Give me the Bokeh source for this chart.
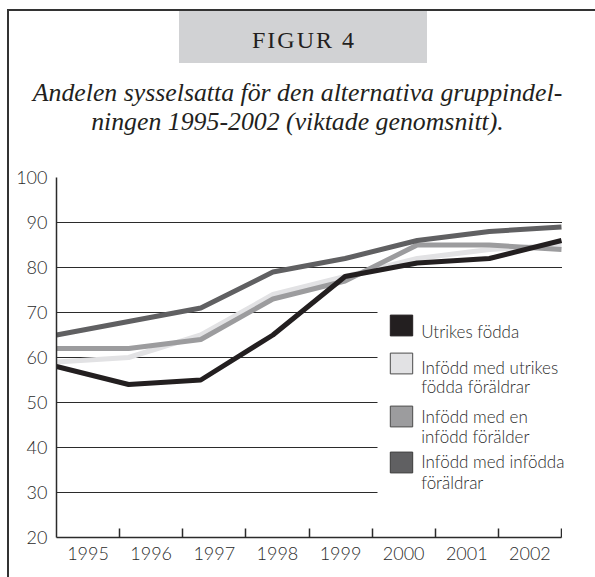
from bokeh.plotting import figure
from bokeh.layouts import column
from bokeh.models import Range1d, FixedTicker, Legend, LegendItem, BoxAnnotation, Div
from bokeh.embed import file_html
from bokeh.resources import INLINE

# ---- data ----
years = [1995, 1996, 1997, 1998, 1999, 2000, 2001, 2002]
utrikes_fodda = [58, 54, 55, 65, 78, 81, 82, 86]
infodd_utrikes_foraldrar = [59, 60, 65, 74, 78, 82, 84, 85]
infodd_en_infodd = [62, 62, 64, 73, 77, 85, 85, 84]
infodd_infodda = [65, 68, 71, 79, 82, 86, 88, 89]
series_labels = [
    ["Utrikes födda"],
    ["Infödd med utrikes", "födda föräldrar"],
    ["Infödd med en", "infödd förälder"],
    ["Infödd med infödda", "föräldrar"],
]
y_ticks = [20, 30, 40, 50, 60, 70, 80, 90, 100]
header = "FIGUR 4"
title_lines = ["Andelen sysselsatta för den alternativa gruppindel-",
               "ningen 1995-2002 (viktade genomsnitt)."]

# ---- styles / layout ----
line_colors = ["#231f20", "#e2e2e4", "#9c9c9e", "#606062"]
swatch_borders = ["#231f20", "#4a4a4a", "#4a4a4a", "#3a3a3a"]
ink = "#2b2b2b"
sans = "Lato Light, Lato"
W = 586
left_px = 47       # room for the value labels
plot_px = 505      # width of the year axis in px
extra_px = W - left_px - plot_px   # frame room right of the axis (legend text)

# ---- header ----
head_html = f"""
<div style="position:relative;width:{W}px;height:150px;">
  <div style="position:absolute;left:170px;top:0px;width:248px;height:52px;background:#d1d2d4;"></div>
  <div style="position:absolute;left:171px;top:3px;width:248px;height:52px;line-height:52px;
              text-align:center;font-family:'Liberation Serif';font-size:24px;letter-spacing:2px;
              color:#231f20;white-space:nowrap;">{header}</div>
  <div style="position:absolute;left:0px;top:67px;width:577px;line-height:29px;text-align:center;
              font-family:'Liberation Serif';font-style:italic;font-size:25.8px;color:#231f20;
              white-space:nowrap;">{title_lines[0]}<br>{title_lines[1]}</div>
</div>
"""
head = Div(text=head_html, width=W, height=150, margin=0)

# ---- chart ----
H = 416
x_end = years[-1] + (years[-1] - years[0]) * extra_px / plot_px
p = figure(width=W, height=H, output_backend="svg", toolbar_location=None,
           x_range=Range1d(years[0], x_end), y_range=Range1d(y_ticks[0], y_ticks[-1]),
           min_border_left=left_px, min_border_right=0,
           min_border_top=16, min_border_bottom=40)
p.outline_line_color = None

n = len(years)
slot = (years[-1] - years[0]) / n
centers = [years[0] + (k + 0.5) * slot for k in range(n)]
bounds = [years[0] + (k + 1) * slot for k in range(n)]

xa = p.xaxis[0]
xa.bounds = (years[0], years[-1])
xa.ticker = FixedTicker(ticks=centers, minor_ticks=bounds)
xa.major_label_overrides = {c: str(y) for c, y in zip(centers, years)}
xa.major_tick_in = 0
xa.major_tick_out = 0
xa.minor_tick_in = 9
xa.minor_tick_out = 0
xa.minor_tick_line_color = ink
xa.minor_tick_line_width = 1.5
xa.axis_line_color = ink
xa.axis_line_width = 1.5
xa.major_label_text_font = sans
xa.major_label_text_font_size = "18px"
xa.major_label_text_color = ink
xa.major_label_standoff = 9

ya = p.yaxis[0]
ya.ticker = FixedTicker(ticks=y_ticks, minor_ticks=[])
ya.major_tick_in = 0
ya.major_tick_out = 0
ya.minor_tick_in = 0
ya.minor_tick_out = 0
ya.axis_line_color = ink
ya.axis_line_width = 1.5
ya.major_label_text_font = sans
ya.major_label_text_font_size = "18px"
ya.major_label_text_color = ink
ya.major_label_standoff = 9

p.xgrid.grid_line_color = None
p.ygrid.ticker = FixedTicker(ticks=y_ticks)
p.ygrid.grid_line_color = ink
p.ygrid.grid_line_width = 1

series = [utrikes_fodda, infodd_utrikes_foraldrar, infodd_en_infodd, infodd_infodda]

# zero-area quads on the data (invisible), used only as legend swatch glyphs
swatch_renderers = []
for i in range(4):
    r = p.quad(left=years, right=years, top=series[i], bottom=series[i],
               fill_color=line_colors[i], line_color=swatch_borders[i], line_width=1)
    swatch_renderers.append(r)

for i in [1, 2, 3, 0]:
    p.line(years, series[i], line_width=5, line_color=line_colors[i])

def screen_box(left, right, bottom, top):
    return BoxAnnotation(left=left, right=right, bottom=bottom, top=top,
                         left_units="screen", right_units="screen",
                         top_units="screen", bottom_units="screen",
                         fill_color="white", fill_alpha=1, line_color=None)

# white area right of the year axis, and white panel behind the legend
p.add_layout(screen_box(plot_px + 0.5, 700, -10, 400))
p.add_layout(screen_box(321, 700, 32, 242))

common = dict(orientation="vertical", glyph_width=28, label_standoff=6,
              spacing=0, padding=0, margin=0,
              background_fill_alpha=0, border_line_color=None,
              label_text_font=sans, label_text_font_size="17px",
              label_text_color=ink)

# swatches (bottom edge of each swatch legend, frame-relative px)
swatch_y = [198.6, 160.6, 107.6, 61.6]
for i, y in enumerate(swatch_y):
    p.add_layout(Legend(items=[LegendItem(label="", renderers=[swatch_renderers[i]])],
                        location=(331.2, y), glyph_height=26, label_height=20, **common),
                 "center")

# text lines (bottom edge of each text line box, frame-relative px)
text_y = [[195.3], [159.3, 140.3], [110.3, 90.3], [65.3, 44.3]]
for i, ys in enumerate(text_y):
    for line, y in zip(series_labels[i], ys):
        p.add_layout(Legend(items=[LegendItem(label=line, renderers=[])],
                            location=(331.2, y), glyph_height=1, label_height=20, **common),
                     "center")

layout = column(head, p, spacing=0,
                styles={"border-left": "2px solid #333333", "border-top": "2px solid #333333",
                        "margin-left": "7px", "margin-top": "9px"})

open("out.html", "w").write(file_html(layout, INLINE))
